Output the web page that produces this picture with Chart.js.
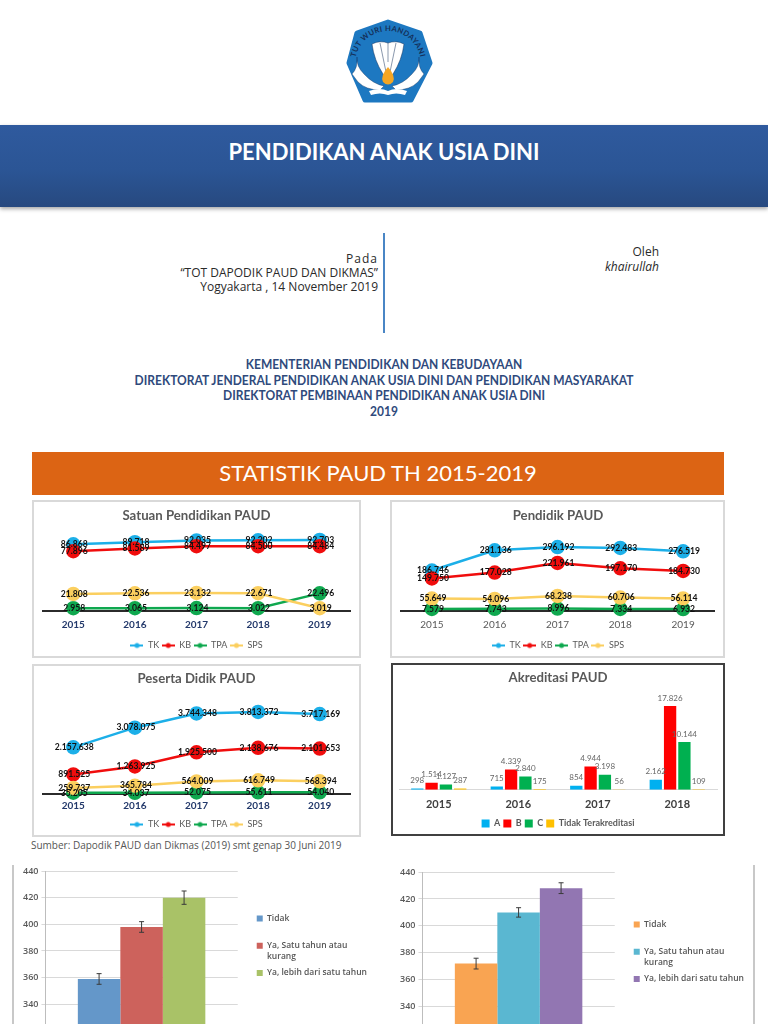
<!DOCTYPE html>
<html lang="en">

<head>
  <meta charset="UTF-8" />
  <title>Pendidikan Anak Usia Dini</title>
  <script src="https://cdn.jsdelivr.net/npm/chart.js"></script>
  <style>
    html, body { margin: 0; padding: 0; background: #fff; }
    body { position: relative; width: 768px; height: 1024px; overflow: hidden; font-family: Lato, sans-serif; }
    .abs { position: absolute; }
    canvas { position: absolute; display: block; }
    #band { left: 0; top: 125px; width: 768px; height: 82px; background: linear-gradient(#2f5a9e, #2b5595 55%, #27497f); box-shadow: 0 2px 4px rgba(0,0,0,.35); }
    #band div { position: absolute; left: 0; right: 0; top: 13px; text-align: center; color: #fff; font-size: 22px; font-weight: 700; }
    .pada { left: 100px; width: 278px; text-align: right; color: #2a2a2a; font-family: "Open Sans", sans-serif; font-size: 12px; line-height: 14px; }
    .oleh { left: 500px; width: 159px; text-align: right; color: #2a2a2a; font-family: "Open Sans", sans-serif; font-size: 12px; line-height: 14.5px; }
    #vline { left: 383px; top: 233px; width: 2px; height: 100px; background: #4a86c5; }
    #instansi { left: 0; width: 768px; top: 357px; text-align: center; color: #2f4a7c; font-size: 13px; line-height: 15.7px; font-weight: 700; transform: scaleX(.923); }
    #statband { left: 32px; top: 452px; width: 692px; height: 43px; background: #dc6414; color: #fff; text-align: center; font-size: 22px; line-height: 42px; }
    .frame { box-sizing: border-box; border: 2px solid #d9d9d9; }
    #sumber { left: 31px; top: 838px; font-family: "Open Sans", sans-serif; font-size: 10px; color: #555; }
    .side { width: 2px; background: #c8c8c8; top: 865px; height: 160px; }
  </style>
</head>

<body>
  <svg class="abs" style="left:340px;top:12px" width="100" height="100" viewBox="340 12 100 100">
    <polygon points="388,22 420,33 430,63 411,100 365,100 349,63 357,33" fill="#1d78c1" stroke="#1d78c1" stroke-width="5" stroke-linejoin="round" />
    <path id="arc" d="M355 64 A33 33 0 0 1 421 64" fill="none" />
    <text font-family="Lato" font-weight="700" font-size="7.6" letter-spacing=".35" fill="#14305a"><textPath href="#arc" startOffset="50%" text-anchor="middle">TUT WURI HANDAYANI</textPath></text>
    <path d="M372 44 Q380 40 388 43 Q396 40 404 44 Q402 60 393 74 L388 80 L383 74 Q374 60 372 44 Z" fill="#fff" stroke="#14305a" stroke-width=".5" />
    <path d="M380 43 L386 72 M396 43 L390 72 M388 43 L388 62" stroke="#14305a" stroke-width=".5" fill="none" />
    <path d="M357 57 Q356 66 364 74 Q373 84 384 86 L380 90 Q366 90 358 82 L352 74 Q358 68 357 57 Z" fill="#fff" stroke="#14305a" stroke-width=".4" />
    <path d="M419 57 Q420 66 412 74 Q403 84 392 86 L396 90 Q410 90 418 82 L424 74 Q418 68 419 57 Z" fill="#fff" stroke="#14305a" stroke-width=".4" />
    <path d="M388 67 Q396 76 393 82 Q388 87 383 82 Q380 76 388 67 Z" fill="#f5a623" />
    <path d="M369 91 Q380 87 388 91 Q396 87 407 91 L405 95 Q396 92 388 95 Q380 92 371 95 Z" fill="#fff" />
  </svg>

  <div id="band" class="abs"><div>PENDIDIKAN ANAK USIA DINI</div></div>
  <div class="abs pada" style="top:252px"><span style="letter-spacing:1px">Pada</span><br>“TOT DAPODIK PAUD DAN DIKMAS”<br>Yogyakarta , 14 November 2019</div>
  <div class="abs oleh" style="top:245px">Oleh<br><i>khairullah</i></div>
  <div id="vline" class="abs"></div>
  <div id="instansi" class="abs">KEMENTERIAN PENDIDIKAN DAN KEBUDAYAAN<br>DIREKTORAT JENDERAL PENDIDIKAN ANAK USIA DINI DAN PENDIDIKAN MASYARAKAT<br>DIREKTORAT PEMBINAAN PENDIDIKAN ANAK USIA DINI<br>2019</div>
  <div id="statband" class="abs">STATISTIK PAUD TH 2015-2019</div>

  <div class="abs frame" style="left:32px;top:500px;width:329px;height:158px"></div>
  <div class="abs frame" style="left:390px;top:500px;width:335px;height:158px"></div>
  <div class="abs frame" style="left:32px;top:664px;width:329px;height:173px"></div>
  <div class="abs frame" style="left:391px;top:663px;width:334px;height:173px;border-color:#404040"></div>
  <div id="sumber" class="abs">Sumber: Dapodik PAUD dan Dikmas (2019) smt genap 30 Juni 2019</div>
  <div class="abs side" style="left:12px"></div>
  <div class="abs side" style="left:753px"></div>

  <canvas id="chartSatuan" width="325" height="158" style="left:34px;top:502px"></canvas>
  <canvas id="chartPendidik" width="331" height="158" style="left:392px;top:502px"></canvas>
  <canvas id="chartPeserta" width="325" height="173" style="left:34px;top:666px"></canvas>
  <canvas id="chartAkreditasi" width="330" height="173" style="left:393px;top:665px"></canvas>
  <canvas id="chartKiri" width="367" height="206" style="left:14px;top:860px"></canvas>
  <canvas id="chartKanan" width="366" height="209" style="left:392px;top:860px"></canvas>

  <script>
    const years = ["2015", "2016", "2017", "2018", "2019"];
    const seriesNames = ["TK", "KB", "TPA", "SPS"];
    const seriesColors = ["#1cafe8", "#f00d0d", "#0fa84f", "#fbcf5f"];

    const satuanTK = [86868, 89718, 92035, 92202, 92703];
    const satuanKB = [77896, 81589, 84497, 84500, 84484];
    const satuanTPA = [2958, 3065, 3124, 3022, 22496];
    const satuanSPS = [21808, 22536, 23132, 22671, 3019];

    const pendidikTK = [186746, 281136, 296192, 292483, 276519];
    const pendidikKB = [149750, 177028, 221961, 197170, 184730];
    const pendidikTPA = [7579, 7743, 8996, 7334, 6932];
    const pendidikSPS = [55649, 54096, 68238, 60706, 56114];

    const pesertaTK = [2157638, 3078075, 3744348, 3813372, 3717169];
    const pesertaKB = [891525, 1263925, 1925500, 2138676, 2101653];
    const pesertaTPA = [35205, 34037, 52075, 55611, 54040];
    const pesertaSPS = [259737, 365784, 564009, 616749, 568394];

    const akreYears = ["2015", "2016", "2017", "2018"];
    const akreNames = ["A", "B", "C", "Tidak Terakreditasi"];
    const akreColors = ["#00b0f0", "#ff0000", "#00b050", "#ffc000"];
    const akreA = [298, 715, 854, 2162];
    const akreB = [1514, 4339, 4944, 17826];
    const akreC = [1127, 2840, 3198, 10144];
    const akreTidak = [287, 175, 56, 109];

    const barLegend = [["Tidak", " "], ["Ya, Satu tahun atau", "kurang"], "Ya, lebih dari satu tahun"];
    const kiriValues = [359, 398, 420];
    const kiriErrors = [4, 4, 5];
    const kiriColors = ["#6497c9", "#cd625c", "#a9c267"];
    const kananValues = [372, 410, 428];
    const kananErrors = [4, 3.5, 4];
    const kananColors = ["#f9a452", "#5ab7d1", "#9276b2"];

    const dotted = v => String(v).replace(/\B(?=(\d{3})+$)/g, ".");

    // little line + dot sample for the legend
    function legendMark(color) {
      const c = document.createElement("canvas");
      c.width = 13; c.height = 8;
      const g = c.getContext("2d");
      g.strokeStyle = color; g.lineWidth = 2;
      g.beginPath(); g.moveTo(0, 4); g.lineTo(13, 4); g.stroke();
      g.fillStyle = color;
      g.beginPath(); g.arc(6.5, 4, 2.5, 0, Math.PI * 2); g.fill();
      return c;
    }

    // Chart.js has no value labels of its own
    const lineLabels = {
      id: "lineLabels",
      afterDraw(chart, args, opts) {
        const ctx = chart.ctx;
        ctx.save();
        ctx.font = "700 " + opts.size + "px Lato";
        ctx.fillStyle = "#111";
        ctx.textAlign = "center";
        ctx.textBaseline = "middle";
        chart.data.datasets.forEach((ds, i) => {
          chart.getDatasetMeta(i).data.forEach((pt, j) => ctx.fillText(dotted(ds.data[j]), pt.x + 1, pt.y));
        });
        ctx.restore();
      }
    };

    const barLabels = {
      id: "barLabels",
      afterDatasetsDraw(chart) {
        const ctx = chart.ctx;
        ctx.save();
        ctx.font = "8px Lato";
        ctx.fillStyle = "#666";
        ctx.textAlign = "center";
        ctx.textBaseline = "bottom";
        chart.data.datasets.forEach((ds, i) => {
          chart.getDatasetMeta(i).data.forEach((bar, j) => ctx.fillText(dotted(ds.data[j]), bar.x, bar.y - 4));
        });
        ctx.restore();
      }
    };

    const errorBars = {
      id: "errorBars",
      afterDatasetsDraw(chart, args, opts) {
        const ctx = chart.ctx, y = chart.scales.y;
        ctx.save();
        ctx.strokeStyle = "#3a3a3a";
        ctx.lineWidth = 1;
        chart.data.datasets.forEach((ds, i) => {
          const x = chart.getDatasetMeta(i).data[0].x;
          const top = y.getPixelForValue(ds.data[0] + opts.errors[i]);
          const bot = y.getPixelForValue(ds.data[0] - opts.errors[i]);
          ctx.beginPath();
          ctx.moveTo(x, top); ctx.lineTo(x, bot);
          ctx.moveTo(x - 2.5, top); ctx.lineTo(x + 2.5, top);
          ctx.moveTo(x - 2.5, bot); ctx.lineTo(x + 2.5, bot);
          ctx.stroke();
        });
        ctx.restore();
      }
    };

    function lineChart(id, title, series, yMax, tickFont, tickColor, labelSize, pad, titleTop, tickPad) {
      new Chart(document.getElementById(id), {
        type: "line",
        data: {
          labels: years,
          datasets: series.map((values, i) => ({
            label: seriesNames[i],
            data: values,
            borderColor: seriesColors[i],
            backgroundColor: seriesColors[i],
            borderWidth: 2.5,
            pointRadius: 6,
            pointHoverRadius: 6,
            tension: 0,
            clip: false,
            order: 4 - i
          }))
        },
        options: {
          responsive: false,
          animation: false,
          layout: { padding: pad },
          scales: {
            x: {
              offset: true,
              grid: { display: false, drawTicks: false },
              border: { color: "#2b2b2b", width: 2 },
              ticks: { color: tickColor, font: tickFont, padding: tickPad }
            },
            y: { display: false, min: 0, max: yMax }
          },
          plugins: {
            title: {
              display: true, text: title, color: "#595959",
              font: { family: "Lato", size: 13.2, weight: "700" },
              padding: { top: titleTop, bottom: 9 }
            },
            legend: {
              position: "bottom",
              labels: {
                color: "#595959", font: { family: "Lato", size: 9 }, padding: 2.5,
                usePointStyle: true, pointStyleWidth: 13,
                generateLabels: c => c.data.datasets.map((ds, i) => ({
                  text: ds.label, fontColor: "#595959", pointStyle: legendMark(seriesColors[i]),
                  lineWidth: 0, strokeStyle: "transparent", fillStyle: "transparent", datasetIndex: i
                }))
              }
            },
            lineLabels: { size: labelSize },
            tooltip: { enabled: false }
          }
        },
        plugins: [lineLabels]
      });
    }

    const navyBold = { family: "Lato", size: 10, weight: "700" };
    const grayPlain = { family: "Lato", size: 10 };
    lineChart("chartSatuan", "Satuan Pendidikan PAUD", [satuanTK, satuanKB, satuanTPA, satuanSPS], 102000, navyBold, "#23396b", 8.6, { left: 7, right: 7, top: 0, bottom: 0 }, 6, 8);
    lineChart("chartPendidik", "Pendidik PAUD", [pendidikTK, pendidikKB, pendidikTPA, pendidikSPS], 362800, grayPlain, "#595959", 8.6, { left: 7, right: 6, top: 0, bottom: 0 }, 6, 8);
    lineChart("chartPeserta", "Peserta Didik PAUD", [pesertaTK, pesertaKB, pesertaTPA, pesertaSPS], 4567000, navyBold, "#23396b", 8.6, { left: 7, right: 7, top: 0, bottom: 0 }, 5, 6);

    new Chart(document.getElementById("chartAkreditasi"), {
      type: "bar",
      data: {
        labels: akreYears,
        datasets: [akreA, akreB, akreC, akreTidak].map((values, i) => ({
          label: akreNames[i],
          data: values,
          backgroundColor: akreColors[i],
          categoryPercentage: 0.72,
          barPercentage: 0.86
        }))
      },
      options: {
        responsive: false,
        animation: false,
        layout: { padding: { left: 6, right: 6 } },
        scales: {
          x: {
            grid: { display: false, drawTicks: false },
            border: { color: "#d9d9d9" },
            ticks: { color: "#404040", font: { family: "Lato", size: 11, weight: "700" }, padding: 8 },
            afterFit(s) { s.height -= 3; }
          },
          y: { display: false, min: 0, max: 20200 }
        },
        plugins: {
          title: {
            display: true, text: "Akreditasi PAUD", color: "#595959",
            font: { family: "Lato", size: 13.2, weight: "700" },
            padding: { top: 5, bottom: 9 }
          },
          legend: {
            position: "bottom",
            labels: { color: "#595959", font: { family: "Lato", size: 9, weight: "700" }, boxWidth: 8, boxHeight: 8, padding: 3 }
          },
          tooltip: { enabled: false }
        }
      },
      plugins: [barLabels]
    });

    function barChart(id, values, errors, colors, pad, legendOffset, gap) {
      new Chart(document.getElementById(id), {
        type: "bar",
        data: {
          labels: [""],
          datasets: values.map((v, i) => ({
            label: barLegend[i],
            data: [v],
            backgroundColor: colors[i],
            categoryPercentage: 0.663,
            barPercentage: 1
          }))
        },
        options: {
          responsive: false,
          animation: false,
          layout: { padding: pad },
          scales: {
            x: { display: false },
            y: {
              min: 300, max: 440,
              ticks: { stepSize: 20, color: "#595959", font: { family: "Open Sans", size: 9, weight: "600" }, padding: 3 },
              grid: { color: "#d9d9d9", tickLength: 4 },
              border: { color: "#bdbdbd" }
            },
            gap: {
              axis: "y", position: "right", ticks: { display: false },
              grid: { display: false, drawTicks: false }, border: { display: false },
              afterFit(s) { s.width = gap; }
            }
          },
          plugins: {
            title: { display: false },
            legend: {
              position: "right", align: "start", maxWidth: 135,
              title: { display: true, text: " ", font: { size: 1 }, padding: { top: legendOffset, bottom: 0 } },
              labels: { color: "#555", font: { family: "Open Sans", size: 8.5, weight: "600", lineHeight: 1.25 }, boxWidth: 6, boxHeight: 6, padding: 6 }
            },
            errorBars: { errors: errors },
            tooltip: { enabled: false }
          }
        },
        plugins: [errorBars]
      });
    }

    barChart("chartKiri", kiriValues, kiriErrors, kiriColors, { top: 11, left: 6, right: 4 }, 36, 13);
    barChart("chartKanan", kananValues, kananErrors, kananColors, { top: 12, left: 5, right: 4 }, 41, 13);
  </script>
</body>

</html>
